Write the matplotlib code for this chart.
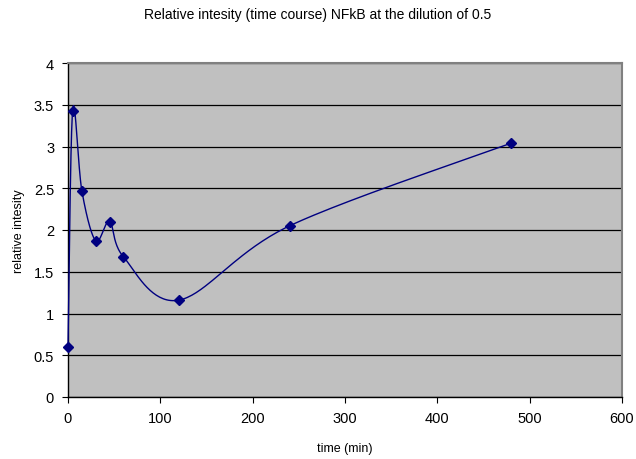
import numpy as np
import matplotlib
matplotlib.use('Agg')
import matplotlib.pyplot as plt

plt.rcParams['font.family'] = ['Liberation Sans', 'DejaVu Sans']

time_min = [0, 5, 15, 30, 45, 60, 120, 240, 480]
intensity = [0.6, 3.43, 2.47, 1.87, 2.1, 1.68, 1.16, 2.05, 3.04]

x_ticks = [0, 100, 200, 300, 400, 500, 600]
y_ticks = [0, 0.5, 1, 1.5, 2, 2.5, 3, 3.5, 4]


def smooth(xs, ys, sx, sy, n=40):
    # bezier smoothing through every point, tangents from neighbours (scaled to axis size)
    p = np.column_stack([np.array(xs, float) * sx, np.array(ys, float) * sy])
    out = []
    for i in range(len(p) - 1):
        p0 = p[max(i - 1, 0)]
        p1 = p[i]
        p2 = p[i + 1]
        p3 = p[min(i + 2, len(p) - 1)]
        c1 = p1 + (p2 - p0) / 6.0
        c2 = p2 - (p3 - p1) / 6.0
        t = np.linspace(0, 1, n)[:, None]
        seg = ((1 - t) ** 3) * p1 + 3 * ((1 - t) ** 2) * t * c1 + 3 * (1 - t) * t ** 2 * c2 + t ** 3 * p2
        out.append(seg if i == 0 else seg[1:])
    out = np.vstack(out)
    return out[:, 0] / sx, out[:, 1] / sy


fig = plt.figure(figsize=(6.36, 4.6), dpi=100)
ax = fig.add_axes([68 / 636, 62 / 460, 554 / 636, 334 / 460])
ax.set_facecolor('#c0c0c0')

ax.set_xlim(0, 600)
ax.set_ylim(0, 4)
ax.set_xticks(x_ticks)
ax.set_yticks(y_ticks)
ax.set_xticklabels([str(v) for v in x_ticks])
ax.set_yticklabels(['0', '0.5', '1', '1.5', '2', '2.5', '3', '3.5', '4'])
ax.tick_params(labelsize=10.5, length=4, width=0.8, color='black', pad=6)

ax.yaxis.grid(True, color='black', linewidth=0.9)
ax.set_axisbelow(True)

for side in ['top', 'right']:
    ax.spines[side].set_color('#808080')
    ax.spines[side].set_linewidth(1.5)
for side in ['left', 'bottom']:
    ax.spines[side].set_color('black')
    ax.spines[side].set_linewidth(1.0)

sx, sy = 554 / 600.0, 334 / 4.0
cx, cy = smooth(time_min, intensity, sx, sy)
ax.plot(cx, cy, color='#000080', linewidth=1.0, clip_on=False, zorder=3)
ax.plot(time_min, intensity, linestyle='none', marker='D', markersize=5.5,
        color='#000080', clip_on=False, zorder=4)

ax.set_xlabel('time (min)', fontsize=9, labelpad=12)
ax.set_ylabel('relative intesity', fontsize=9, labelpad=6)
fig.text(0.5, 1 - 15 / 460, 'Relative intesity (time course) NFkB at the dilution of 0.5',
         ha='center', va='center', fontsize=10)

fig.savefig('out.png', dpi=100)
